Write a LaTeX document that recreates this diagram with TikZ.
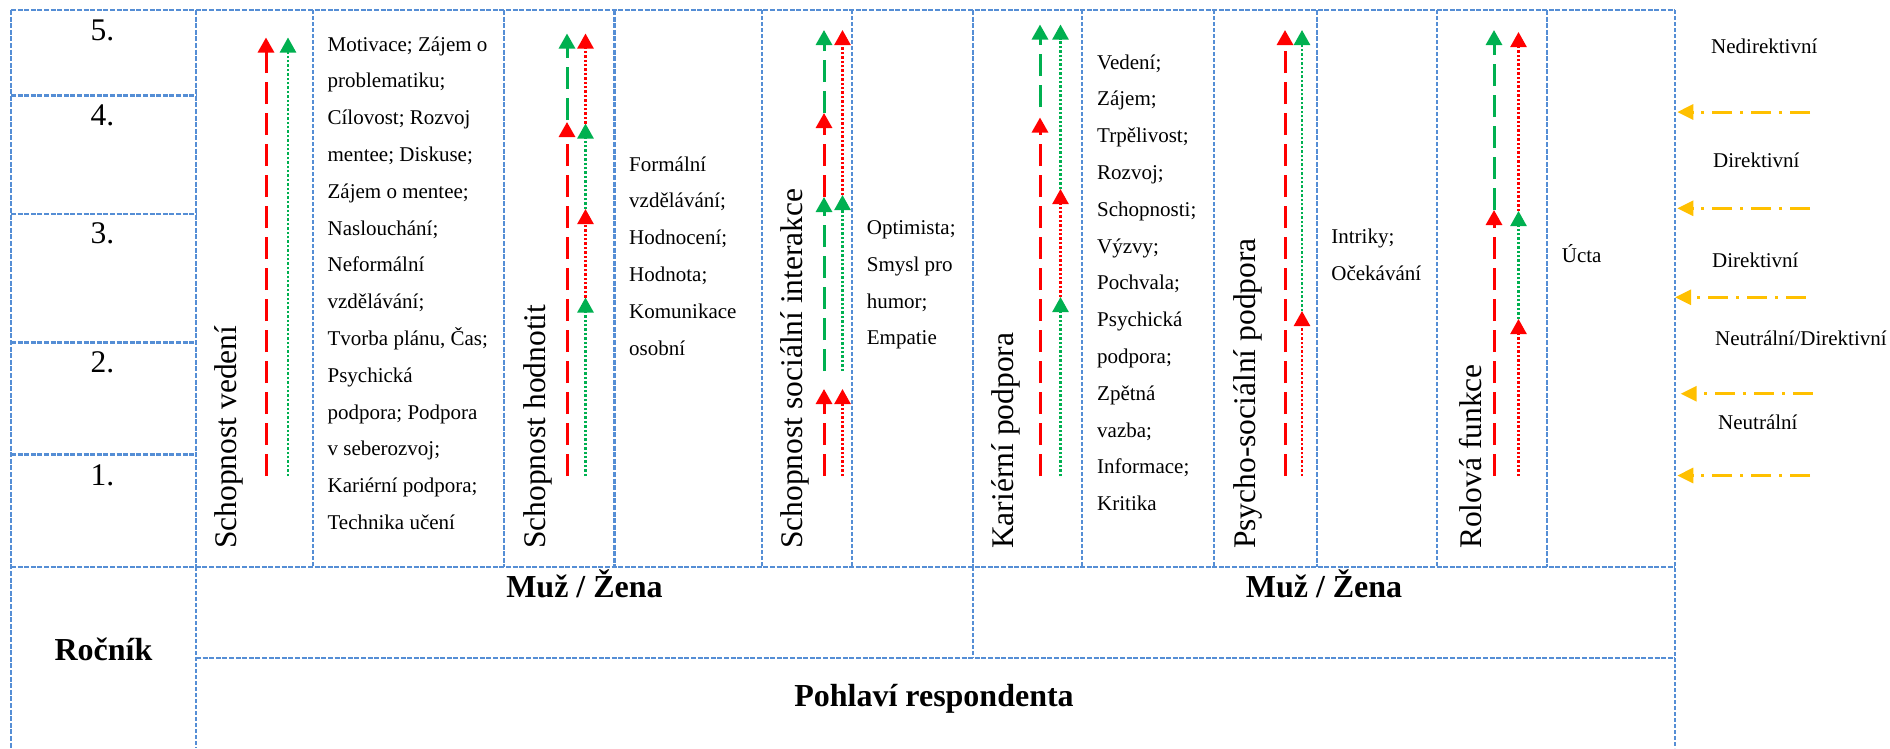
\documentclass[tikz,border=0pt]{standalone}
\usepackage{fontspec}
\setmainfont{Liberation Serif}
\usetikzlibrary{arrows.meta}
\definecolor{gridblue}{RGB}{85,142,213}
\definecolor{myred}{RGB}{255,0,0}
\definecolor{mygreen}{RGB}{0,176,80}
\definecolor{myorange}{RGB}{255,192,0}
\newcommand\cellist[1]{\vtop{\baselineskip=36.8pt\lineskiplimit=-50pt\lineskip=0pt\halign{##\hfil\cr#1\crcr}}}
\newcommand\arrseg[5]{\coordinate (#1a) at (#3,#4);\coordinate (#1b) at (#3,#5);\draw[#2] (#1a) -- (#1b);}
\tikzset{
  gthick/.style={draw=gridblue, line width=2.4pt, dash pattern=on 5pt off 1.6pt},
  gthin/.style={draw=gridblue, line width=1.6pt, dash pattern=on 4pt off 2pt},
  uptip/.style={-{Triangle[width=16pt,length=15pt]}},
  rdash/.style={draw=myred, line width=3pt, dash pattern=on 22pt off 9pt, uptip, myred},
  gdash/.style={draw=mygreen, line width=3pt, dash pattern=on 22pt off 9pt, uptip, mygreen},
  rdot/.style={draw=myred, line width=2.4pt, dash pattern=on 2.4pt off 2pt, uptip, myred},
  gdot/.style={draw=mygreen, line width=2.4pt, dash pattern=on 2.4pt off 2pt, uptip, mygreen},
  legarrow/.style={draw=myorange, line width=3pt, dash pattern=on 20pt off 8pt on 3pt off 8pt, -{Triangle[width=15pt,length=16pt]}, myorange},
  smalltxt/.style={font=\fontsize{21pt}{36.8pt}\selectfont, inner sep=0pt},
  bigtxt/.style={font=\fontsize{31.5pt}{36pt}\selectfont, inner sep=0pt},
  boldtxt/.style={font=\fontsize{32pt}{38pt}\selectfont\bfseries, inner sep=0pt},
  vlabel/.style={bigtxt, rotate=90, anchor=base west}
}
\begin{document}
\begin{tikzpicture}[x=1pt,y=-1pt]
\fill[white] (0,0) rectangle (1890,748);
\useasboundingbox (0,0) rectangle (1890,748);
% ---- grid ----
\draw[gthick] (11,10) -- (1675,10);
\draw[gthick] (11,10) -- (11,748);
\foreach \x in {196,504,614.5,973,1317,1547} \draw[gthick] (\x,10) -- (\x,567);
\foreach \x in {313,762,852,1082,1214,1437} \draw[gthin] (\x,10) -- (\x,567);
\draw[gthin] (1675,10) -- (1675,748);
\draw[gthin] (196,567) -- (196,748);
\draw[gthin] (973,567) -- (973,658);
\foreach \y in {95.6,213.7,342.4,454.4} \draw[gthick] (11,\y) -- (196,\y);
\draw[gthick] (11,567) -- (1675,567);
\draw[gthick] (196,658) -- (1675,658);
% ---- row numbers ----
\node[bigtxt, anchor=base] (r5) at (102.5,40) {5.};
\node[bigtxt, anchor=base] (r4) at (102.5,125.4) {4.};
\node[bigtxt, anchor=base] (r3) at (102.5,243.5) {3.};
\node[bigtxt, anchor=base] (r2) at (102.5,372.6) {2.};
\node[bigtxt, anchor=base] (r1) at (102.5,485) {1.};
% ---- vertical labels ----
\node[vlabel] (vB) at (236,549) {Schopnost vedení};
\node[vlabel] (vD) at (545,549) {Schopnost hodnotit};
\node[vlabel] (vF) at (802,549) {Schopnost sociální interakce};
\node[vlabel] (vH) at (1013.5,549) {Kariérní podpora};
\node[vlabel] (vJ) at (1255,549) {Psycho-sociální podpora};
\node[vlabel] (vL) at (1481,549) {Rolová funkce};
% ---- text lists ----
\node[smalltxt, anchor=base west] (tC) at (327.4,51) {\cellist{Motivace; Zájem o\cr problematiku;\cr Cílovost; Rozvoj\cr mentee; Diskuse;\cr Zájem o mentee;\cr Naslouchání;\cr Neformální\cr vzdělávání;\cr Tvorba plánu, Čas;\cr Psychická\cr podpora; Podpora\cr v seberozvoj;\cr Kariérní podpora;\cr Technika učení}};
\node[smalltxt, anchor=base west] (tE) at (629,171) {\cellist{Formální\cr vzdělávání;\cr Hodnocení;\cr Hodnota;\cr Komunikace\cr osobní}};
\node[smalltxt, anchor=base west] (tG) at (866.7,234.5) {\cellist{Optimista;\cr Smysl pro\cr humor;\cr Empatie}};
\node[smalltxt, anchor=base west] (tI) at (1097,69) {\cellist{Vedení;\cr Zájem;\cr Trpělivost;\cr Rozvoj;\cr Schopnosti;\cr Výzvy;\cr Pochvala;\cr Psychická\cr podpora;\cr Zpětná\cr vazba;\cr Informace;\cr Kritika}};
\node[smalltxt, anchor=base west] (tK) at (1331.2,243.5) {\cellist{Intriky;\cr Očekávání}};
\node[smalltxt, anchor=base west] (tM) at (1561.7,262.5) {Úcta};
% ---- bottom headers ----
\node[boldtxt, anchor=base] (mz1) at (584.5,597) {Muž / Žena};
\node[boldtxt, anchor=base] (mz2) at (1324,597) {Muž / Žena};
\node[boldtxt, anchor=base] (roc) at (103.5,660) {Ročník};
\node[boldtxt, anchor=base] (pohl) at (934,706) {Pohlaví respondenta};
% ---- legend ----
\node[smalltxt, anchor=base west] (lg1) at (1711,53.5) {Nedirektivní};
\node[smalltxt, anchor=base west] (lg2) at (1713,167.5) {Direktivní};
\node[smalltxt, anchor=base west] (lg3) at (1712,267.5) {Direktivní};
\node[smalltxt, anchor=base west] (lg4) at (1715,345.5) {Neutrální/Direktivní};
\node[smalltxt, anchor=base west] (lg5) at (1718,429) {Neutrální};
\coordinate (o1a) at (1810,112);   \coordinate (o1b) at (1677.3,112);
\coordinate (o2a) at (1810,208.3); \coordinate (o2b) at (1677.3,208.3);
\coordinate (o3a) at (1805.7,297.3); \coordinate (o3b) at (1675,297.3);
\coordinate (o4a) at (1812.7,393.7); \coordinate (o4b) at (1680.7,393.7);
\coordinate (o5a) at (1810,475.5); \coordinate (o5b) at (1677.3,475.5);
\foreach \i in {1,...,5} \draw[legarrow] (o\i a) -- (o\i b);
% ---- arrows: Schopnost vedeni ----
\arrseg{b1}{rdash}{266}{476}{37.5}
\arrseg{b2}{gdot}{288}{476}{37.5}
% ---- Schopnost hodnotit ----
\arrseg{d1}{rdash}{567}{476}{122}
\arrseg{d2}{gdash}{567}{120}{33.5}
\arrseg{d3}{gdot}{585.5}{476}{297.5}
\arrseg{d4}{rdot}{585.5}{297.5}{209}
\arrseg{d5}{gdot}{585.5}{209}{123.5}
\arrseg{d6}{rdot}{585.5}{123.5}{33.5}
% ---- Schopnost socialni interakce ----
\arrseg{f1}{rdash}{824}{476}{389}
\arrseg{f2}{gdash}{824}{371}{197}
\arrseg{f3}{rdash}{824}{197}{113}
\arrseg{f4}{gdash}{824}{113}{30}
\arrseg{f5}{rdot}{842.5}{476}{389}
\arrseg{f6}{gdot}{842.5}{371}{195}
\arrseg{f7}{rdot}{842.5}{195}{30}
% ---- Karierni podpora ----
\arrseg{h1}{rdash}{1040}{476}{117.5}
\arrseg{h2}{gdash}{1040}{107}{24.5}
\arrseg{h3}{gdot}{1060.5}{476}{297}
\arrseg{h4}{rdot}{1060.5}{297}{189}
\arrseg{h5}{gdot}{1060.5}{189}{24.5}
% ---- Psycho-socialni podpora ----
\arrseg{j1}{rdash}{1285}{476}{30}
\arrseg{j2}{rdot}{1302}{476}{311}
\arrseg{j3}{gdot}{1302}{311}{30}
% ---- Rolova funkce ----
\arrseg{l1}{rdash}{1494}{476}{210}
\arrseg{l2}{gdash}{1494}{210}{30}
\arrseg{l3}{rdot}{1518.5}{476}{319}
\arrseg{l4}{gdot}{1518.5}{319}{211}
\arrseg{l5}{rdot}{1518.5}{211}{32}
\end{tikzpicture}
\end{document}
